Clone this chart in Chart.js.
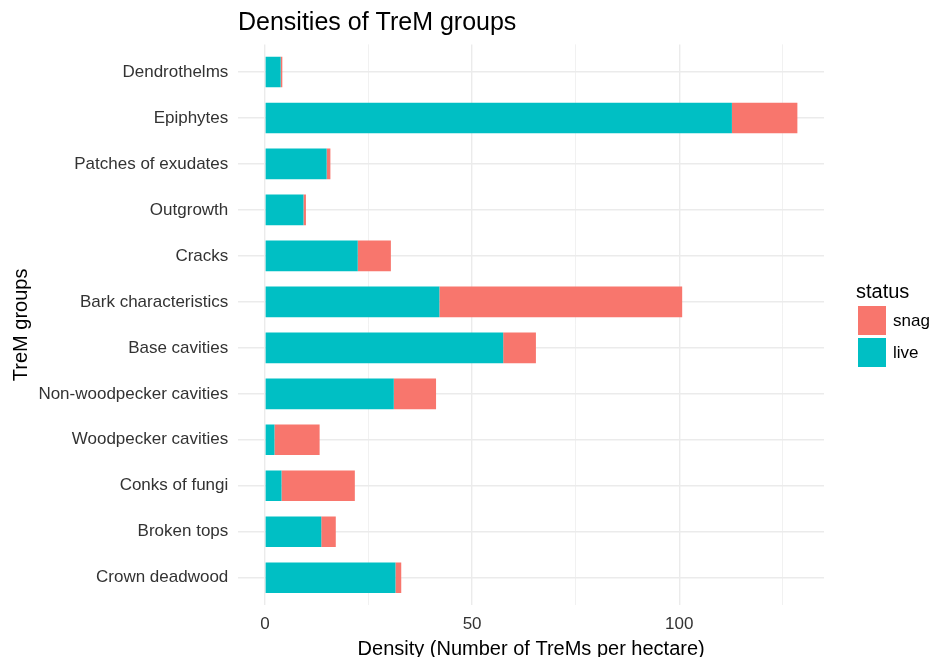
<!DOCTYPE html>
<html><head><meta charset="utf-8">
<script src="https://cdn.jsdelivr.net/npm/chart.js@4/dist/chart.umd.min.js"></script>
<style>html,body{margin:0;padding:0;background:#fff}#wrap{width:930px;height:657px;position:relative;overflow:hidden}</style>
</head><body><div id="wrap"><canvas id="c" width="930" height="657"></canvas></div>
<script>
const CATEGORIES = ['Dendrothelms','Epiphytes','Patches of exudates','Outgrowth','Cracks','Bark characteristics','Base cavities','Non-woodpecker cavities','Woodpecker cavities','Conks of fungi','Broken tops','Crown deadwood'];
const LIVE = [3.8,112.7,14.9,9.3,22.4,42.1,57.5,31.1,2.3,4.0,13.6,31.5];
const SNAG = [0.4,15.8,0.9,0.6,8.0,58.6,7.9,10.2,10.9,17.7,3.5,1.4];
const X_TICKS = [0,25,50,75,100,125];
const X_TICK_LABELS = ['0','','50','','100',''];
const TITLE = 'Densities of TreM groups';
const X_TITLE = 'Density (Number of TreMs per hectare)';
const Y_TITLE = 'TreM groups';
const LEGEND_TITLE = 'status';
const LEGEND_ORDER = ['snag','live'];

const FONT = "'Liberation Sans', Arial, Helvetica, sans-serif";
const COLORS = {live:'#00BFC4', snag:'#F8766D'};
const totals = LIVE.map((v,i)=>v+SNAG[i]);
const maxTotal = Math.max(...totals);

const textPlugin = {
  id:'texts',
  afterDraw(chart){
    const ctx = chart.ctx, a = chart.chartArea;
    ctx.save();
    ctx.fillStyle = '#000';
    ctx.textBaseline = 'alphabetic';
    ctx.font = '25px ' + FONT;
    ctx.textAlign = 'left';
    ctx.fillText(TITLE, 238, 30);
    ctx.font = '20px ' + FONT;
    ctx.textAlign = 'center';
    ctx.fillText(X_TITLE, (a.left+a.right)/2, 655);
    ctx.save();
    ctx.translate(27, (a.top+a.bottom)/2);
    ctx.rotate(-Math.PI/2);
    ctx.fillText(Y_TITLE, 0, 0);
    ctx.restore();
    // legend
    ctx.textAlign = 'left';
    ctx.font = '20px ' + FONT;
    ctx.fillText(LEGEND_TITLE, 856, 298);
    ctx.font = '17px ' + FONT;
    ctx.textBaseline = 'middle';
    LEGEND_ORDER.forEach((name,k)=>{
      const ds = chart.data.datasets.find(d=>d.label===name);
      const y = 306 + k*32;
      ctx.fillStyle = ds.backgroundColor;
      ctx.fillRect(858, y, 28, 29);
      ctx.fillStyle = '#000';
      ctx.fillText(name, 893, y+15);
    });
    ctx.restore();
  }
};

new Chart(document.getElementById('c'), {
  type:'bar',
  data:{
    datasets:[
      {label:'live', data:LIVE.map((v,i)=>({x:v,y:i})), backgroundColor:COLORS.live, borderWidth:0},
      {label:'snag', data:SNAG.map((v,i)=>({x:v,y:i})), backgroundColor:COLORS.snag, borderWidth:0}
    ]
  },
  options:{
    indexAxis:'y',
    responsive:false,
    animation:false,
    devicePixelRatio:1,
    categoryPercentage:0.667,
    barPercentage:1,
    layout:{padding:{left:0,right:106,top:44.4,bottom:0}},
    plugins:{legend:{display:false}, tooltip:{enabled:false}, title:{display:false}},
    scales:{
      x:{
        type:'linear', stacked:true, offset:false,
        min:-0.05*maxTotal, max:1.05*maxTotal,
        afterBuildTicks:s=>{s.ticks = X_TICKS.map(v=>({value:v}));},
        afterFit:s=>{s.height = 657-605.3;},
        ticks:{callback:(v,i)=>X_TICK_LABELS[i], font:{family:FONT,size:17}, color:'#333', padding:9, maxRotation:0, autoSkip:false},
        grid:{color:'#EBEBEB', lineWidth:c=>(X_TICK_LABELS[c.index]?1.4:0.7), drawTicks:false, offset:false},
        border:{display:false}
      },
      y:{
        type:'linear', stacked:true, reverse:true, offset:false,
        min:-0.6, max:CATEGORIES.length-1+0.6,
        afterBuildTicks:s=>{s.ticks = CATEGORIES.map((_,i)=>({value:i}));},
        afterFit:s=>{s.width = 238.3;},
        ticks:{callback:v=>CATEGORIES[v], font:{family:FONT,size:17}, color:'#333', padding:10, autoSkip:false},
        grid:{color:'#EBEBEB', lineWidth:1.4, drawTicks:false, offset:false},
        border:{display:false}
      }
    }
  },
  plugins:[textPlugin]
});
</script>
</body></html>
